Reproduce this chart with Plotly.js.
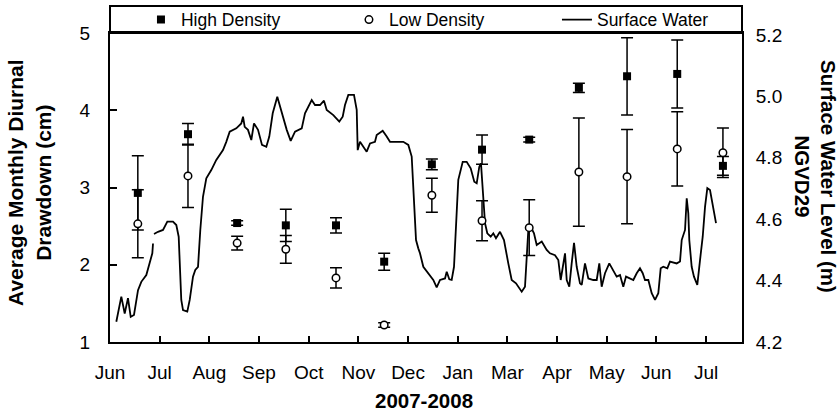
<!DOCTYPE html>
<html>
<head>
<meta charset="utf-8">
<script src="https://cdn.plot.ly/plotly-3.0.1.min.js"></script>
<style>html,body{margin:0;padding:0;background:#fff;}#chart{width:840px;height:411px;}</style>
</head>
<body>
<div id="chart"></div>
<script>
// Month offsets from June 2007 (0 = Jun, 12 = Jul 2008)
var tickVals = [0,1,2,3,4,5,6,7,8,9,10,11,12];
var tickText = ["Jun","Jul","Aug","Sep","Oct","Nov","Dec","Jan","Mar","Apr","May","Jun","Jul"];

var sampleX = [0.56,1.57,2.56,3.54,4.55,5.52,6.48,7.49,8.44,9.44,10.41,11.42,12.34];
var highDensity = [2.93,3.69,2.54,2.51,2.51,2.04,3.30,3.49,3.62,4.29,4.44,4.47,3.28];
var highErr     = [0.48,0.14,0.03,0.21,0.10,0.11,0.07,0.19,0.03,0.06,0.50,0.44,0.12];
var lowDensity  = [2.53,3.15,2.28,2.20,1.83,1.22,2.90,2.57,2.48,3.20,3.14,3.50,3.45];
var lowErr      = [0.44,0.41,0.09,0.18,0.13,0.03,0.22,0.26,0.36,0.70,0.61,0.48,0.32];

var swX = [0.127,0.228,0.296,0.362,0.417,0.483,0.564,0.630,0.731,0.799,0.852,0.866,0.876,
  0.886,0.966,1.067,1.154,1.268,1.335,1.383,1.403,1.435,1.470,1.556,1.605,1.671,1.717,1.772,1.818,
  1.872,1.939,2.039,2.140,2.275,2.341,2.410,2.543,2.643,2.678,2.712,2.778,2.845,2.899,2.980,3.060,
  3.147,3.207,3.276,3.368,3.457,3.558,3.638,3.725,3.860,3.926,4.061,4.127,4.228,4.308,4.363,4.496,
  4.616,4.685,4.731,4.798,4.912,4.967,4.987,5.033,5.100,5.168,5.235,5.335,5.369,5.490,5.571,5.637,
  5.905,6.006,6.074,6.120,6.161,6.207,6.241,6.308,6.408,6.509,6.577,6.644,6.745,6.779,6.831,6.879,
  6.926,6.966,7.012,7.101,7.181,7.262,7.334,7.383,7.435,7.469,7.504,7.550,7.596,7.665,7.717,7.771,
  7.852,7.932,8.019,8.087,8.174,8.289,8.355,8.401,8.422,8.470,8.536,8.591,8.692,8.792,8.858,8.959,
  9.026,9.074,9.114,9.161,9.195,9.247,9.295,9.342,9.396,9.462,9.497,9.563,9.630,9.730,9.799,9.851,
  9.899,9.966,10.052,10.133,10.201,10.268,10.334,10.389,10.469,10.536,10.604,10.670,10.725,10.771,
  10.838,10.906,10.973,11.039,11.087,11.140,11.220,11.274,11.409,11.476,11.510,11.577,11.611,11.643,
  11.663,11.711,11.757,11.824,11.879,11.933,11.980,12.026,12.080,12.134,12.160,12.201];
var swY = [4.266,4.348,4.293,4.343,4.282,4.288,4.369,4.396,4.418,4.462,4.489,4.521,null,
  4.552,4.559,4.565,4.592,4.592,4.581,4.543,4.445,4.337,4.304,4.299,4.337,4.413,4.435,4.445,4.565,
  4.673,4.733,4.760,4.793,4.825,4.852,4.885,4.896,4.912,4.934,4.901,4.891,4.858,4.912,4.891,4.842,
  4.836,4.869,4.945,4.999,4.945,4.891,4.855,4.885,4.896,4.945,4.988,4.972,4.972,4.986,4.956,4.939,
  4.918,4.934,4.972,5.005,5.005,4.956,4.825,4.852,4.836,4.820,4.847,4.852,4.874,4.888,4.869,4.852,
  4.852,4.842,4.804,4.673,4.532,4.505,4.489,4.445,4.424,4.402,4.378,4.402,4.407,4.429,4.404,4.402,
  4.445,4.597,4.728,4.787,4.787,4.766,4.722,4.717,4.771,4.782,4.695,4.587,4.554,4.543,4.554,4.538,
  4.559,4.532,4.456,4.402,4.391,4.364,4.380,4.489,4.565,4.576,4.554,4.516,4.527,4.500,4.489,4.483,
  4.467,4.402,4.445,4.489,4.402,4.380,4.456,4.523,4.445,4.391,4.386,4.456,4.407,4.402,4.402,4.456,
  4.380,4.424,4.456,4.435,4.413,4.418,4.380,4.413,4.407,4.402,4.424,4.440,4.424,4.402,
  4.402,4.359,4.337,4.359,4.440,4.445,4.440,4.462,4.456,4.462,4.532,4.565,4.668,4.619,
  4.532,4.445,4.413,4.386,4.467,4.543,4.641,4.701,4.695,4.652,4.619,4.587];

var FONT = "Liberation Sans, Arial, sans-serif";

var traces = [
  {
    name: "High Density", type: "scatter", mode: "markers",
    x: sampleX, y: highDensity, xaxis: "x", yaxis: "y2",
    marker: {symbol: "square", size: 8, color: "#000"},
    error_y: {type: "data", array: highErr, visible: true, color: "#000", thickness: 1.5, width: 6}
  },
  {
    name: "Low Density", type: "scatter", mode: "markers",
    x: sampleX, y: lowDensity, xaxis: "x", yaxis: "y2",
    marker: {symbol: "circle", size: 7.5, color: "#fff", line: {color: "#000", width: 1.5}},
    error_y: {type: "data", array: lowErr, visible: true, color: "#000", thickness: 1.5, width: 6}
  },
  {
    name: "Surface Water", type: "scatter", mode: "lines",
    x: swX, y: swY, xaxis: "x", yaxis: "y",
    line: {color: "#000", width: 1.8}, connectgaps: false
  }
];

var layout = {
  width: 840, height: 411,
  margin: {l: 110, r: 98, t: 33, b: 69, autoexpand: false},
  paper_bgcolor: "#fff", plot_bgcolor: "#fff",
  font: {family: FONT, color: "#000", size: 19},
  showlegend: true,
  legend: {
    orientation: "h", x: 0.049, xanchor: "left", y: 1.043, yanchor: "middle",
    bgcolor: "rgba(0,0,0,0)", borderwidth: 0,
    font: {family: FONT, size: 17.5, color: "#000"},
    entrywidth: 163, entrywidthmode: "pixels", itemwidth: 30
  },
  xaxis: {
    range: [0, 12.724], tickmode: "array", tickvals: tickVals, ticktext: tickText,
    ticks: "inside", ticklen: 6, tickwidth: 2, tickcolor: "#000",
    showline: true, linewidth: 2, linecolor: "#000", mirror: true,
    showgrid: false, zeroline: false, ticklabelstandoff: 12,
    tickfont: {family: FONT, size: 19, color: "#000"}
  },
  yaxis: {
    side: "right", range: [4.2, 5.2065], tickmode: "array",
    tickvals: [4.2,4.4,4.6,4.8,5.0,5.2], ticktext: ["4.2","4.4","4.6","4.8","5.0","5.2"],
    ticks: "", showline: true, linewidth: 2, linecolor: "#000",
    showgrid: false, zeroline: false, ticklabelstandoff: 8,
    tickfont: {family: FONT, size: 19, color: "#000"}
  },
  yaxis2: {
    overlaying: "y", side: "left", range: [1, 5], tickmode: "array",
    tickvals: [1,2,3,4,5], ticks: "inside", ticklen: 7, tickwidth: 2, tickcolor: "#000",
    showline: true, linewidth: 2, linecolor: "#000",
    showgrid: false, zeroline: false, ticklabelstandoff: 14,
    tickfont: {family: FONT, size: 19, color: "#000"}
  },
  shapes: [
    {type: "rect", xref: "paper", yref: "paper", x0: 0, x1: 1, y0: 1, y1: 1.0874,
     line: {color: "#000", width: 2}, fillcolor: "rgba(0,0,0,0)"}
  ],
  annotations: [
    {text: "<b>Average Monthly Diurnal<br>Drawdown (cm)</b>", xref: "paper", yref: "paper",
     x: -0.128, y: 0.515, xanchor: "center", yanchor: "middle", textangle: -90, showarrow: false,
     font: {family: FONT, size: 21, color: "#000"}},
    {text: "<b>Surface Water Level (m)<br>NGVD29</b>", xref: "paper", yref: "paper",
     x: 1.1165, y: 0.535, xanchor: "center", yanchor: "middle", textangle: 90, showarrow: false,
     font: {family: FONT, size: 20.5, color: "#000"}},
    {text: "<b>2007-2008</b>", xref: "paper", yref: "paper",
     x: 0.497, y: -0.19, xanchor: "center", yanchor: "middle", showarrow: false,
     font: {family: FONT, size: 20.5, color: "#000"}}
  ]
};

Plotly.newPlot("chart", traces, layout, {displayModeBar: false, staticPlot: true});
</script>
</body>
</html>
